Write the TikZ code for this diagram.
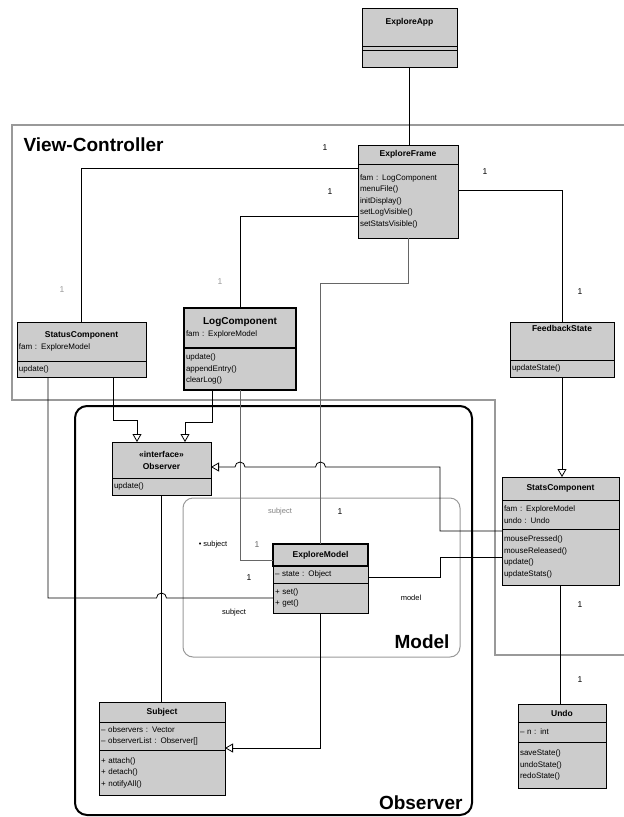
\documentclass[tikz,border=0pt]{standalone}
\usepackage{fontspec}
\setmainfont{Liberation Sans}
\usepackage{tikz}
\usetikzlibrary{positioning, arrows.meta, calc}

\newcommand{\clsname}[2]{\makebox[#1][c]{\bfseries #2}}

\begin{document}
\begin{tikzpicture}[
    x=1pt, y=-1pt,
    ctitle/.style={draw, fill=black!20, anchor=north west, inner sep=2pt, outer sep=0pt, align=center, font=\bfseries\fontsize{8.5}{10}\selectfont},
    cbody/.style={draw, fill=black!20, anchor=north, inner sep=2pt, outer sep=0pt, align=left, font=\fontsize{8}{11.5}\selectfont},
    assoc/.style={line width=0.8pt},
    light/.style={line width=0.7pt, black!60},
    impl/.style={line width=0.8pt, -{Triangle[open, length=8pt, width=9pt]}},
    mult/.style={font=\fontsize{8.5}{9}\selectfont},
    role/.style={font=\fontsize{7.5}{8}\selectfont},
    pkglabel/.style={font=\bfseries\fontsize{19}{20}\selectfont}
]
    \useasboundingbox (0,0) rectangle (624,817);

    % Packages
    \draw[black!40, line width=1.2pt] (624,125) -- (12,125) -- (12,400) -- (495,400) -- (495,655) -- (624,655);
    \draw[line width=2pt, rounded corners=12pt] (75,406) rectangle (472,815);
    \draw[black!40, line width=1pt, rounded corners=10pt] (183,498) rectangle (460,657);
    \node[pkglabel, anchor=west] (vc-label) at (20,145) {View-Controller};
    \node[pkglabel, anchor=base east] (model-label) at (453,648) {Model};
    \node[pkglabel, anchor=base east] (obs-label) at (466,809) {Observer};

    % ExploreApp
    \node[ctitle, text width=91pt, text height=14pt, text depth=20pt] (app-t) at (362,8) {ExploreApp};
    \node[cbody, text width=91pt, minimum height=4pt, below=0pt of app-t] (app-a) {};
    \node[cbody, text width=91pt, minimum height=17pt, below=0pt of app-a] (app-m) {};

    % ExploreFrame
    \node[ctitle, text width=96pt, minimum height=19pt] (frame-t) at (358,145) {ExploreFrame};
    \node[cbody, text width=96pt, minimum height=74pt, below=0pt of frame-t] (frame-b) {fam : LogComponent\\ menuFile()\\ initDisplay()\\ setLogVisible()\\ setStatsVisible()};

    % View components
    \node[cbody, anchor=north west, text width=125pt, minimum height=39pt] (status-t) at (17,322) {{\fontsize{8.5}{10}\selectfont\clsname{125pt}{StatusComponent}}\\ fam : ExploreModel};
    \node[cbody, text width=125pt, minimum height=16pt, below=0pt of status-t] (status-m) {update()};

    \node[cbody, anchor=north west, text width=108pt, minimum height=40pt, line width=1.2pt] (log-t) at (184,308) {{\fontsize{10}{11}\selectfont\clsname{108pt}{LogComponent}}\\ fam : ExploreModel};
    \node[cbody, text width=108pt, minimum height=42pt, line width=1.2pt, below=0pt of log-t] (log-m) {update()\\ appendEntry()\\ clearLog()};

    \node[ctitle, text width=100pt, text height=7pt, text depth=27pt] (fb-t) at (510,322) {FeedbackState};
    \node[cbody, text width=100pt, minimum height=17pt, below=0pt of fb-t] (fb-m) {updateState()};

    \node[ctitle, text width=113pt, minimum height=23pt] (stats-t) at (502,477) {StatsComponent};
    \node[cbody, text width=113pt, minimum height=29pt, below=0pt of stats-t] (stats-a) {fam : ExploreModel\\ undo : Undo};
    \node[cbody, text width=113pt, minimum height=56pt, below=0pt of stats-a] (stats-m) {mousePressed()\\ mouseReleased()\\ update()\\ updateStats()};

    \node[ctitle, text width=84pt, minimum height=18pt] (undo-t) at (518,704) {Undo};
    \node[cbody, text width=84pt, minimum height=20pt, below=0pt of undo-t] (undo-a) {– n : int};
    \node[cbody, text width=84pt, minimum height=46pt, below=0pt of undo-a] (undo-m) {saveState()\\ undoState()\\ redoState()};

    % Observer classes
    \node[cbody, anchor=north west, text width=95pt, minimum height=36pt, align=center, font=\bfseries\fontsize{8.5}{12}\selectfont] (obs-t) at (112,442) {«interface»\\ Observer};
    \node[cbody, text width=95pt, minimum height=17pt, below=0pt of obs-t] (obs-m) {update()};

    \node[ctitle, text width=122pt, minimum height=20pt] (subj-t) at (99,702) {Subject};
    \node[cbody, text width=122pt, minimum height=28pt, below=0pt of subj-t] (subj-a) {– observers : Vector\\ – observerList : Observer[]};
    \node[cbody, text width=122pt, minimum height=45pt, below=0pt of subj-a] (subj-m) {+ attach()\\ + detach()\\ + notifyAll()};

    % Model
    \node[ctitle, text width=91pt, minimum height=22pt, line width=1.2pt] (model-t) at (273,544) {ExploreModel};
    \node[cbody, text width=91pt, minimum height=17pt, below=0pt of model-t] (model-a) {– state : Object};
    \node[cbody, text width=91pt, minimum height=30pt, below=0pt of model-a] (model-m) {+ set()\\ + get()};

    % Connectors
    \draw[assoc] (app-m.south) -- (app-m.south |- frame-t.north);
    \draw[assoc] ([yshift=-4pt]frame-b.north west) -| (status-t.north);
    \draw[assoc] ([yshift=-52pt]frame-b.north west) -| (log-t.north);
    \draw[assoc] ([yshift=11pt]frame-b.east) -| (fb-t.north);
    \draw[light] (log-m.south) |- ([yshift=6pt]model-t.south west);
    \draw[light] (frame-b.south) -- ++(0,-45pt) -| (model-t.north);
    \draw[assoc] ([xshift=31pt]status-m.south west) |- ([xshift=-5pt]obs-m.south |- model-m.west)
        arc[start angle=180, end angle=0, radius=5pt] -- (model-m.west);
    \draw[impl] ([xshift=96pt]status-m.south west) -- ++(0,-43pt) -| ([xshift=25pt]obs-t.north west);
    \draw[impl] ([xshift=28pt]log-m.south west) -- ++(0,-32pt) -| ([xshift=73pt]obs-t.north west);
    \draw[assoc] (obs-m.south) -- (obs-m.south |- subj-t.north);
    \draw[impl] ([yshift=-2pt]stats-m.north west) -- ++(-62pt,0) |- ([xshift=5pt,yshift=-7pt]model-t.north |- obs-t.east)
        arc[start angle=0, end angle=180, radius=5pt] -- ([xshift=5pt,yshift=-7pt]log-t.north |- obs-t.east)
        arc[start angle=0, end angle=180, radius=5pt] -- ([yshift=-7pt]obs-t.east);
    \draw[assoc] ([yshift=-3pt]model-a.east) -- ++(72pt,0) |- (stats-m.west);
    \draw[impl] (model-m.south) |- ([yshift=2pt]subj-m.north east);
    \draw[impl] (fb-m.south) -- (fb-m.south |- stats-t.north);
    \draw[assoc] (stats-m.south) -- (stats-m.south |- undo-t.north);

    % Multiplicities and roles
    \node[mult] (m-fs) at (325,148) {1};
    \node[mult, black!40] (m-sf) at (62,290) {1};
    \node[mult] (m-fl) at (330,192) {1};
    \node[mult, black!40] (m-lf) at (220,282) {1};
    \node[mult] (m-ff) at (485,172) {1};
    \node[mult] (m-bf) at (580,292) {1};
    \node[mult] (m-su) at (580,605) {1};
    \node[mult] (m-us) at (580,680) {1};
    \node[mult] (m-fm) at (340,512) {1};
    \node[role, black!50] (r-fm) at (280,512) {subject};
    \node[mult, black!60] (m-lm) at (257,545) {1};
    \node[role] (r-lm) at (213,545) {• subject};
    \node[mult] (m-sm) at (249,578) {1};
    \node[role] (r-sm) at (234,613) {subject};
    \node[role] (r-ms) at (411,598) {model};
\end{tikzpicture}
\end{document}
